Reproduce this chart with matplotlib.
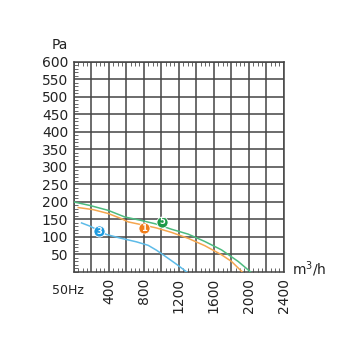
import matplotlib
matplotlib.use("Agg")
import matplotlib.pyplot as plt
from matplotlib.ticker import MultipleLocator

# curve data (flow m3/h, pressure Pa)
flow_5 = [0, 183, 392, 583, 754, 940, 1116, 1307, 1497, 1688, 1878, 2020]
pa_5 = [200, 190, 176, 157, 148, 137, 122, 108, 87, 63, 30, 0]

flow_1 = [50, 221, 392, 545, 621, 716, 940, 1116, 1307, 1497, 1688, 1802, 1924]
pa_1 = [184, 178, 167, 152, 143, 138, 126, 113, 96, 75, 49, 30, 0]

flow_3 = [88, 183, 373, 526, 716, 850, 945, 1020, 1100, 1173, 1290]
pa_3 = [140, 131, 107, 97, 86, 76, 62, 49, 35, 22, 0]

# numbered labels on the curves
labels = ["3", "1", "5"]
label_x = [290, 800, 1010]
label_y = [117, 125, 144]
label_col = ["#1e9be0", "#f07d1a", "#1d9a48"]

x_ticks = [0, 200, 400, 600, 800, 1000, 1200, 1400, 1600, 1800, 2000, 2200, 2400]
x_labels = ["", "", "400", "", "800", "", "1200", "", "1600", "", "2000", "", "2400"]
y_ticks = [50, 100, 150, 200, 250, 300, 350, 400, 450, 500, 550, 600]

fig = plt.figure(figsize=(3.5, 3.5), dpi=100)
ax = fig.add_axes([0.211, 0.223, 0.6, 0.6])

ax.plot(flow_5, pa_5, color="#4dbb7f", lw=1.1, zorder=3)
ax.plot(flow_1, pa_1, color="#f5a64e", lw=1.1, zorder=3)
ax.plot(flow_3, pa_3, color="#5dbbe8", lw=1.1, zorder=3)

for t, x, y, c in zip(labels, label_x, label_y, label_col):
    ax.plot(x, y, "o", ms=8, color=c, mec="white", mew=0.6, zorder=4)
    ax.text(x, y - 1, t, color="white", fontsize=6, fontweight="bold",
            ha="center", va="center", zorder=5)

ax.set_xlim(0, 2400)
ax.set_ylim(0, 600)
ax.set_xticks(x_ticks)
ax.set_xticklabels(x_labels)
ax.set_yticks(y_ticks)
ax.xaxis.set_minor_locator(MultipleLocator(50))
ax.yaxis.set_minor_locator(MultipleLocator(10))
ax.grid(True, which="major", color="#444444", lw=1.1)
for s in ax.spines.values():
    s.set_color("#444444")
    s.set_linewidth(1.1)

ax.tick_params(which="major", length=0, pad=4, labelsize=10, colors="#222222")
ax.tick_params(axis="x", labelrotation=90)
ax.tick_params(which="minor", direction="in", length=3, width=0.7,
               color="#666666", top=True, right=False)

ax.text(-0.067, 1.08, "Pa", transform=ax.transAxes, fontsize=10,
        ha="center", va="center", color="#222222")
ax.text(1.04, 0.015, "m$^3$/h", transform=ax.transAxes, fontsize=10,
        ha="left", va="center", color="#222222")
ax.text(-0.105, -0.086, "50Hz", transform=ax.transAxes, fontsize=9,
        ha="left", va="center", color="#222222")

fig.savefig("out.png", dpi=100)
